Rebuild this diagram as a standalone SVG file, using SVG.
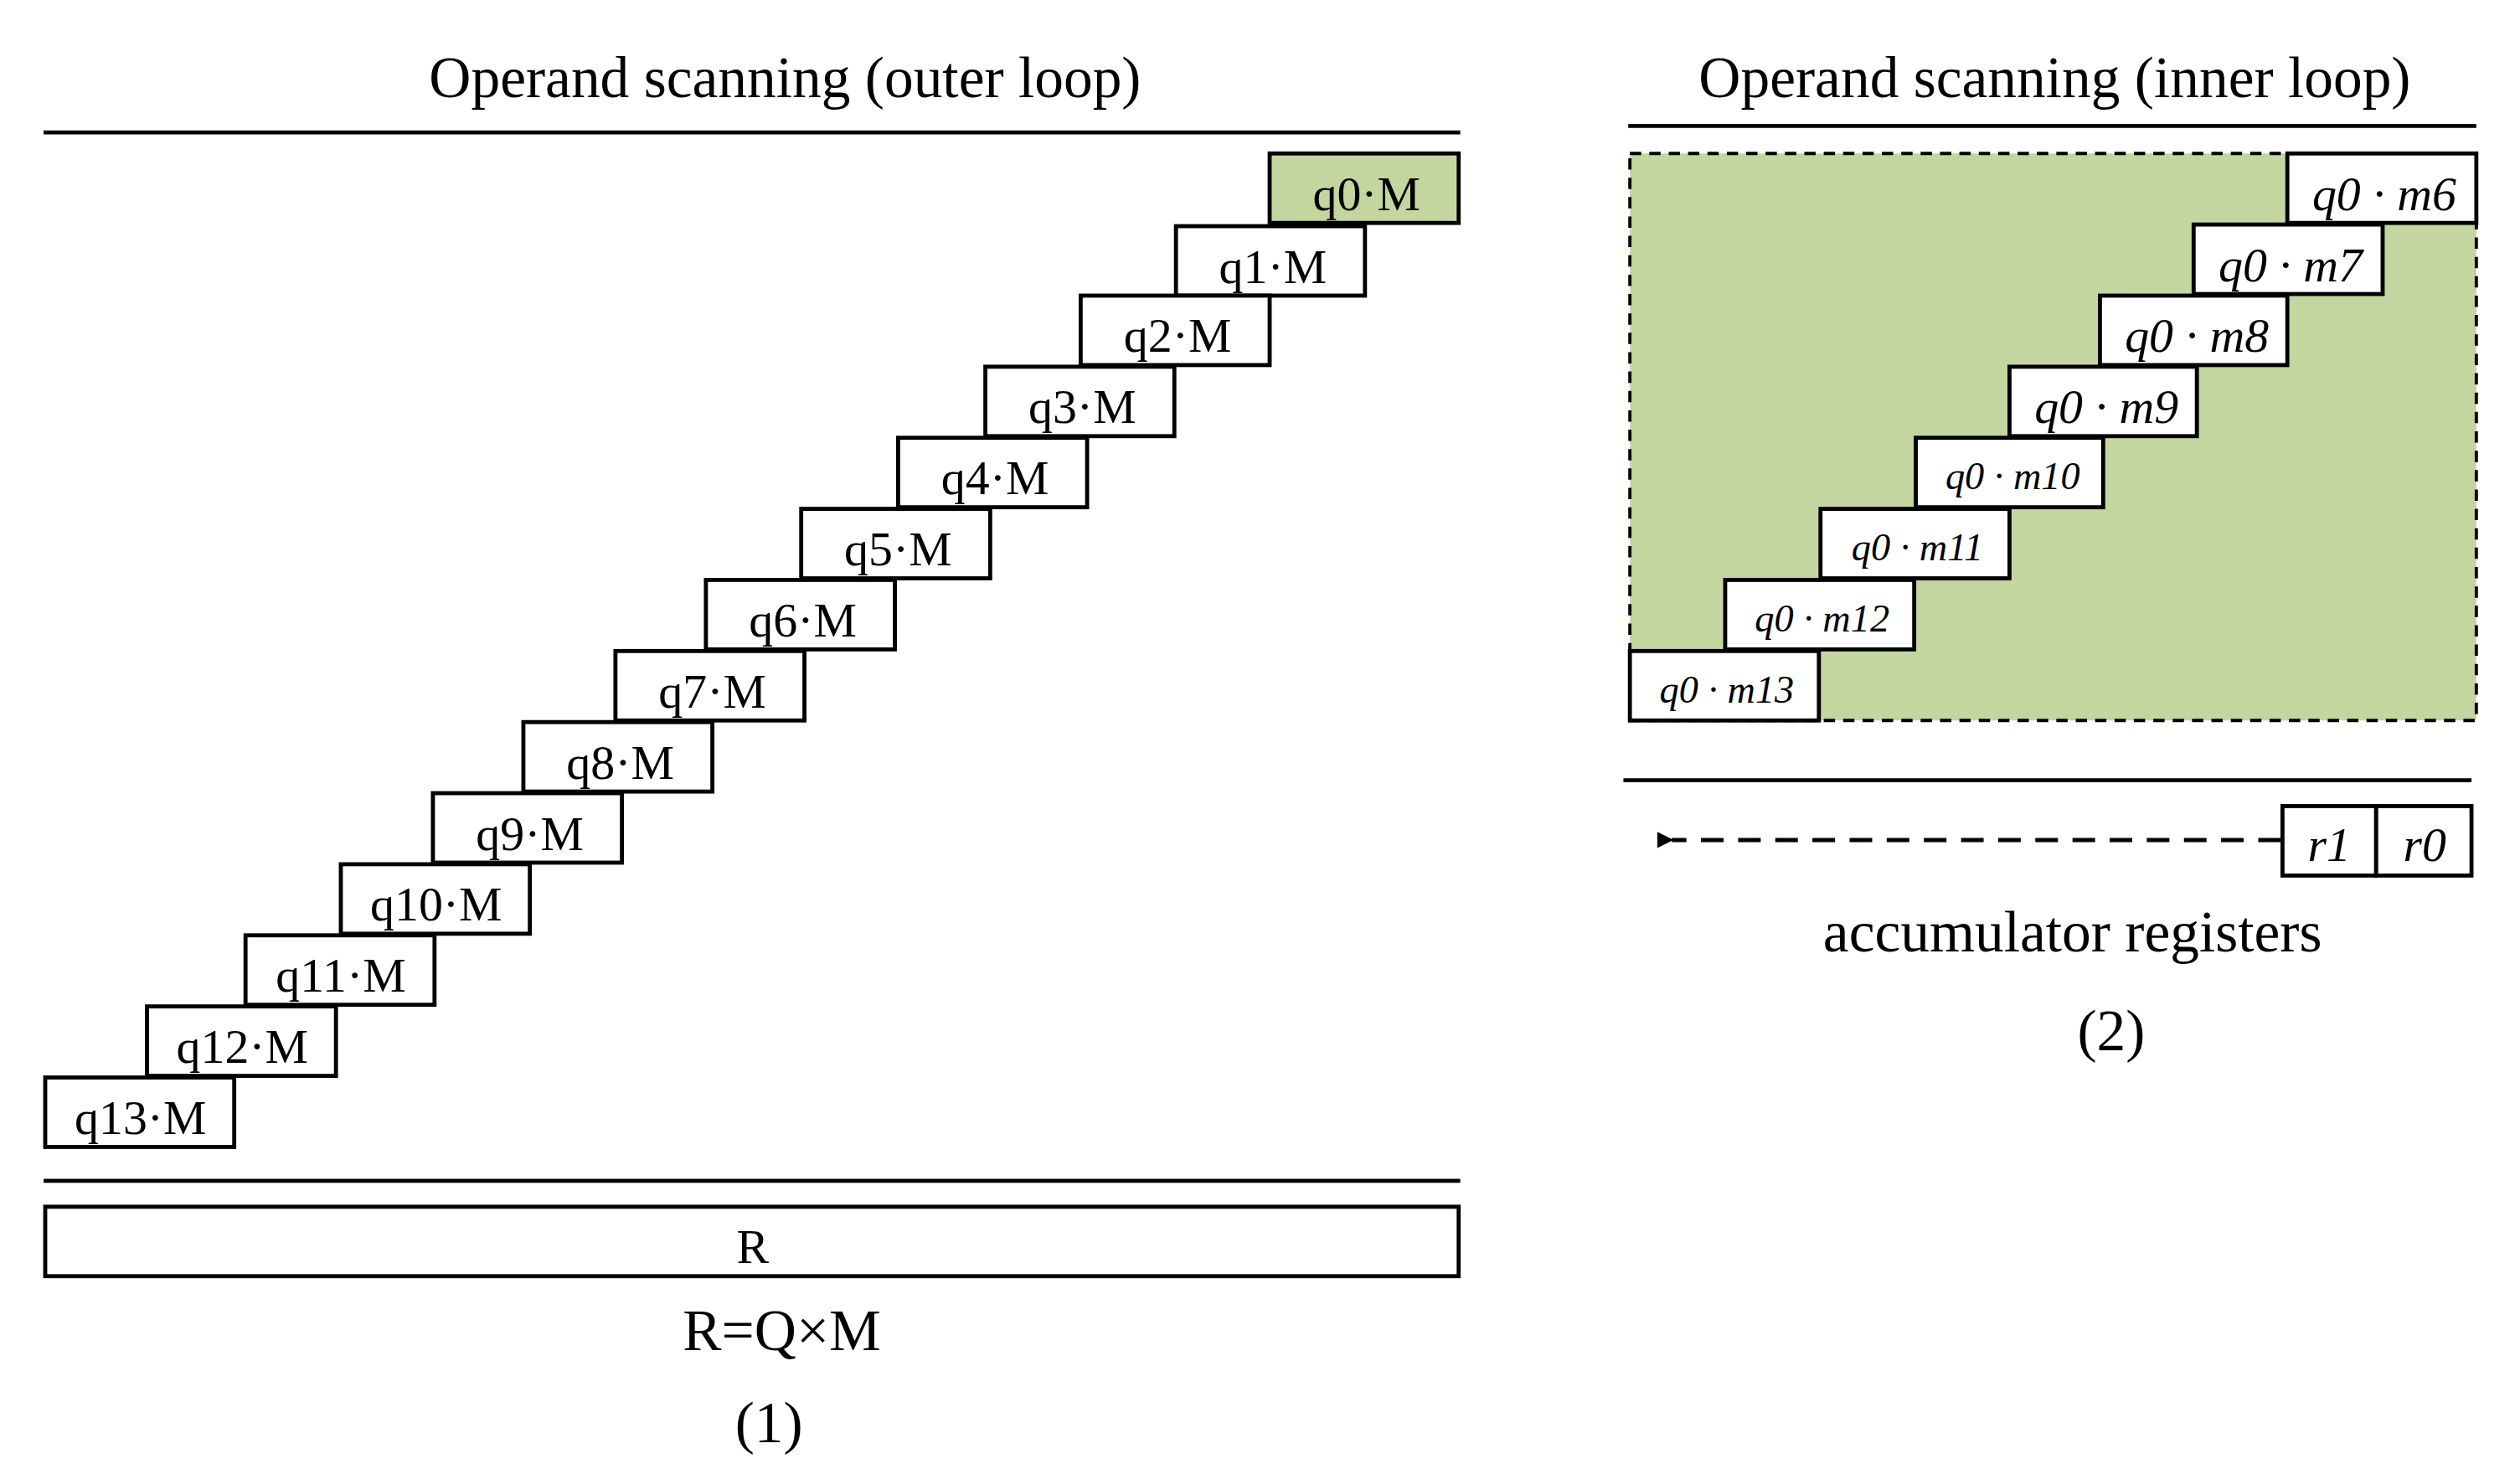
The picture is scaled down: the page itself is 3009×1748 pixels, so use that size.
<svg xmlns="http://www.w3.org/2000/svg" width="3009" height="1748" viewBox="0 0 3009 1748">
<style>
text{font-family:"Liberation Serif",serif;fill:#000;text-anchor:middle}
.t{font-size:36px}
.b{font-size:30px}
.s{font-size:24px}
.i{font-style:italic}
.box{fill:#fff;stroke:#000;stroke-width:2.5}
.ln{stroke:#000;stroke-width:2.5}
</style>
<defs><marker id="ah" markerWidth="10" markerHeight="10" refX="1" refY="5" orient="auto" markerUnits="userSpaceOnUse"><path d="M10,0 L0,5 L10,10 z" fill="#000"/></marker></defs>
<rect width="3009" height="1748" fill="#fff"/>
<g transform="scale(1.9288)">
<text class="t" x="486" y="60">Operand scanning (outer loop)</text>
<line class="ln" x1="27" y1="82" x2="904" y2="82"/>
<g id="q0"><rect x="786" y="95" width="117" height="43" fill="#c4d6a0" stroke="#000" stroke-width="2.5"/><text class="b" x="846" y="130">q0·M</text></g>
<g id="q1"><rect class="box" x="728" y="140" width="117" height="43"/><text class="b" x="788" y="175">q1·M</text></g>
<g id="q2"><rect class="box" x="669" y="183" width="117" height="43"/><text class="b" x="729" y="218">q2·M</text></g>
<g id="q3"><rect class="box" x="610" y="227" width="117" height="43"/><text class="b" x="670" y="262">q3·M</text></g>
<g id="q4"><rect class="box" x="556" y="271" width="117" height="43"/><text class="b" x="616" y="306">q4·M</text></g>
<g id="q5"><rect class="box" x="496" y="315" width="117" height="43"/><text class="b" x="556" y="350">q5·M</text></g>
<g id="q6"><rect class="box" x="437" y="359" width="117" height="43"/><text class="b" x="497" y="394">q6·M</text></g>
<g id="q7"><rect class="box" x="381" y="403" width="117" height="43"/><text class="b" x="441" y="438">q7·M</text></g>
<g id="q8"><rect class="box" x="324" y="447" width="117" height="43"/><text class="b" x="384" y="482">q8·M</text></g>
<g id="q9"><rect class="box" x="268" y="491" width="117" height="43"/><text class="b" x="328" y="526">q9·M</text></g>
<g id="q10"><rect class="box" x="211" y="535" width="117" height="43"/><text class="b" x="270" y="570">q10·M</text></g>
<g id="q11"><rect class="box" x="152" y="579" width="117" height="43"/><text class="b" x="211" y="614">q11·M</text></g>
<g id="q12"><rect class="box" x="91" y="623" width="117" height="43"/><text class="b" x="150" y="658">q12·M</text></g>
<g id="q13"><rect class="box" x="28" y="667" width="117" height="43"/><text class="b" x="87" y="702">q13·M</text></g>
<line class="ln" x1="27" y1="731" x2="904" y2="731"/>
<g id="R"><rect class="box" x="28" y="747" width="875" height="43"/><text class="b" x="466" y="782">R</text></g>
<text class="t" x="484" y="836">R=Q×M</text>
<text class="t" x="476" y="893">(1)</text>

<text class="t" x="1272" y="60">Operand scanning (inner loop)</text>
<line class="ln" x1="1008" y1="78" x2="1533" y2="78"/>
<rect x="1009" y="95" width="524" height="351" fill="#c4d6a0" stroke="#000" stroke-width="2" stroke-dasharray="7,5"/>
<g id="m6"><rect class="box" x="1416" y="95" width="117" height="43"/><text class="b i" x="1476" y="130">q0 · m6</text></g>
<g id="m7"><rect class="box" x="1358" y="139" width="117" height="43"/><text class="b i" x="1418" y="174">q0 · m7</text></g>
<g id="m8"><rect class="box" x="1300" y="183" width="116" height="43"/><text class="b i" x="1360" y="218">q0 · m8</text></g>
<g id="m9"><rect class="box" x="1244" y="227" width="116" height="43"/><text class="b i" x="1304" y="262">q0 · m9</text></g>
<g id="m10"><rect class="box" x="1186" y="271" width="116" height="43"/><text class="s i" x="1246" y="303">q0 · m10</text></g>
<g id="m11"><rect class="box" x="1127" y="315" width="117" height="43"/><text class="s i" x="1187" y="347">q0 · m11</text></g>
<g id="m12"><rect class="box" x="1068" y="359" width="117" height="43"/><text class="s i" x="1128" y="391">q0 · m12</text></g>
<g id="m13"><rect class="box" x="1009" y="403" width="117" height="43"/><text class="s i" x="1069" y="435">q0 · m13</text></g>
<line class="ln" x1="1005" y1="483" x2="1530" y2="483"/>
<g id="connectors"><line x1="1412" y1="520" x2="1035" y2="520" stroke="#000" stroke-width="2.5" stroke-dasharray="14,9" marker-end="url(#ah)"/></g>
<g id="r1"><rect class="box" x="1413" y="499" width="58" height="43"/><text class="b i" x="1442" y="533">r1</text></g>
<g id="r0"><rect class="box" x="1471" y="499" width="59" height="43"/><text class="b i" x="1501" y="533">r0</text></g>
<text class="t" x="1283" y="589">accumulator registers</text>
<text class="t" x="1307" y="650">(2)</text>
</g>
</svg>
